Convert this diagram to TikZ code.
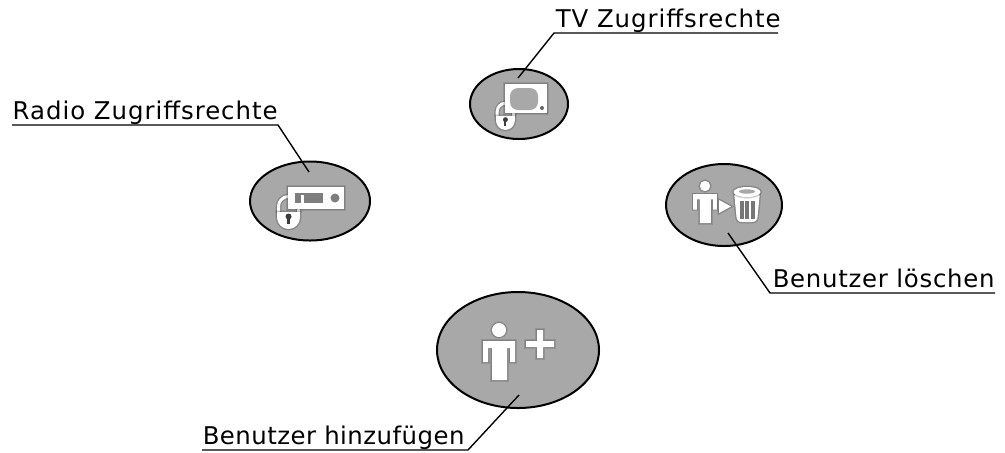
\documentclass[tikz,border=0pt]{standalone}
\usepackage{fontspec}
\setmainfont[LetterSpace=4]{DejaVu Sans}
\usetikzlibrary{shapes.geometric}

\definecolor{bubblegray}{RGB}{168,168,168}
\definecolor{keygray}{RGB}{60,60,60}

\tikzset{every picture/.style={line width=0.75pt}}
\tikzset{
  bubble/.style={ellipse,draw=black,fill=bubblegray,line width=1pt,inner sep=0pt,outer sep=0pt},
  caption/.style={anchor=base west,inner sep=0pt,font=\fontsize{12.2}{14}\selectfont},
  leader/.style={draw=black,line width=0.7pt},
  icon/.style={fill=white,preaction={draw=black,draw opacity=.12,line width=1.6pt},preaction={draw=black,draw opacity=.12,line width=0.8pt}},
  iconline/.style={draw=white,line width=1.5pt,preaction={draw=black,draw opacity=.12,line width=3pt},preaction={draw=black,draw opacity=.12,line width=2.2pt}},
  every pic/.style={yscale=-1},
  lock/.pic={
    \draw [iconline] (1.5,18) -- (1.5,11.5) arc [start angle=180,end angle=360,radius=10] -- (21.5,18);
    \path [icon] (0,17) -- (23,17) -- (23,22.5) arc [start angle=0,end angle=180,radius=11.5] -- cycle;
    \fill [keygray] (11.5,21.5) circle (3);
    \fill [keygray] (10.3,21.5) rectangle (12.7,29);
  },
  person/.pic={
    \path [icon] (0,0) circle (7);
    \path [icon] (-16,11) -- (16,11) -- (16,32) -- (11,32) -- (11,18) -- (8,18) -- (8,50) -- (-7,50) -- (-7,18) -- (-11,18) -- (-11,32) -- (-16,32) -- cycle;
  }
}

\begin{document}
\begin{tikzpicture}[x=0.5pt,y=0.5pt,yscale=-1,xscale=1]
    \useasboundingbox (0,0) rectangle (1005,452);

    % Bubbles
    \node (radio) at (310,201) [bubble,minimum width=60pt,minimum height=39.5pt] {};
    \node (tv) at (519,104) [bubble,minimum width=49pt,minimum height=35pt] {};
    \node (delete) at (724,205) [bubble,minimum width=58pt,minimum height=41pt] {};
    \node (add) at (518,350) [bubble,minimum width=81pt,minimum height=58pt] {};

    % Radio icon
    \pic at (277,195) {lock};
    \path [icon] (288,187) rectangle (344,209);
    \fill [bubblegray!75!black] (295,193) rectangle (323,203);
    \fill [bubblegray!75!black] (335,198) circle (4.5);
    \fill [white] (301,195) rectangle (304,204);

    % TV icon
    \pic [scale=0.82] at (496,102) {lock};
    \path [icon] (505,84) rectangle (547,113);
    \fill [bubblegray,rounded corners=4pt] (510,88) rectangle (538,110);
    \fill [bubblegray!60!black] (542,108) circle (2);

    % Delete icon
    \pic [scale=0.74] at (705,186) {person};
    \path [icon] (719,200) -- (731,206.5) -- (719,213) -- cycle;
    \path [icon,rounded corners=2pt] (734,192) -- (760,192) -- (757,222) -- (737,222) -- cycle;
    \path [icon] (747,192) ellipse (13.5 and 5);
    \fill [bubblegray] (747,191.5) ellipse (8 and 2.2);
    \fill [bubblegray!70!black] (739.5,201) rectangle (754.5,219);
    \fill [white] (743.5,201) rectangle (745,219);
    \fill [white] (749,201) rectangle (750.5,219);

    % Add icon
    \pic at (499,330) {person};
    \path [icon] (526,341) -- (537,341) -- (537,330) -- (543,330) -- (543,341) -- (554,341) -- (554,347) -- (543,347) -- (543,358) -- (537,358) -- (537,347) -- (526,347) -- cycle;

    % Text Node
    \node (radiotext) at (12,119) [caption] {Radio Zugriffsrechte};
    % Text Node
    \node (tvtext) at (555,27) [caption] {TV Zugriffsrechte};
    % Text Node
    \node (deletetext) at (772,287) [caption] {\addfontfeature{LetterSpace=3}Benutzer löschen};
    % Text Node
    \node (addtext) at (202,444) [caption] {\addfontfeature{LetterSpace=1.9}Benutzer hinzufügen};

    % Leaders
    \coordinate (radiotip) at (309,172);
    \coordinate (radioknee) at (278,125);
    \coordinate (radioend) at (12,125);
    \coordinate (tvtip) at (518,78);
    \coordinate (tvknee) at (554,33);
    \coordinate (tvend) at (778,33);
    \coordinate (deletetip) at (728,233);
    \coordinate (deleteknee) at (770,293);
    \coordinate (deleteend) at (995,293);
    \coordinate (addtip) at (519,395);
    \coordinate (addknee) at (468,450);
    \coordinate (addend) at (202,450);
    \draw [leader] (radiotip) -- (radioknee) -- (radioend);
    \draw [leader] (tvtip) -- (tvknee) -- (tvend);
    \draw [leader] (deletetip) -- (deleteknee) -- (deleteend);
    \draw [leader] (addtip) -- (addknee) -- (addend);
\end{tikzpicture}
\end{document}
